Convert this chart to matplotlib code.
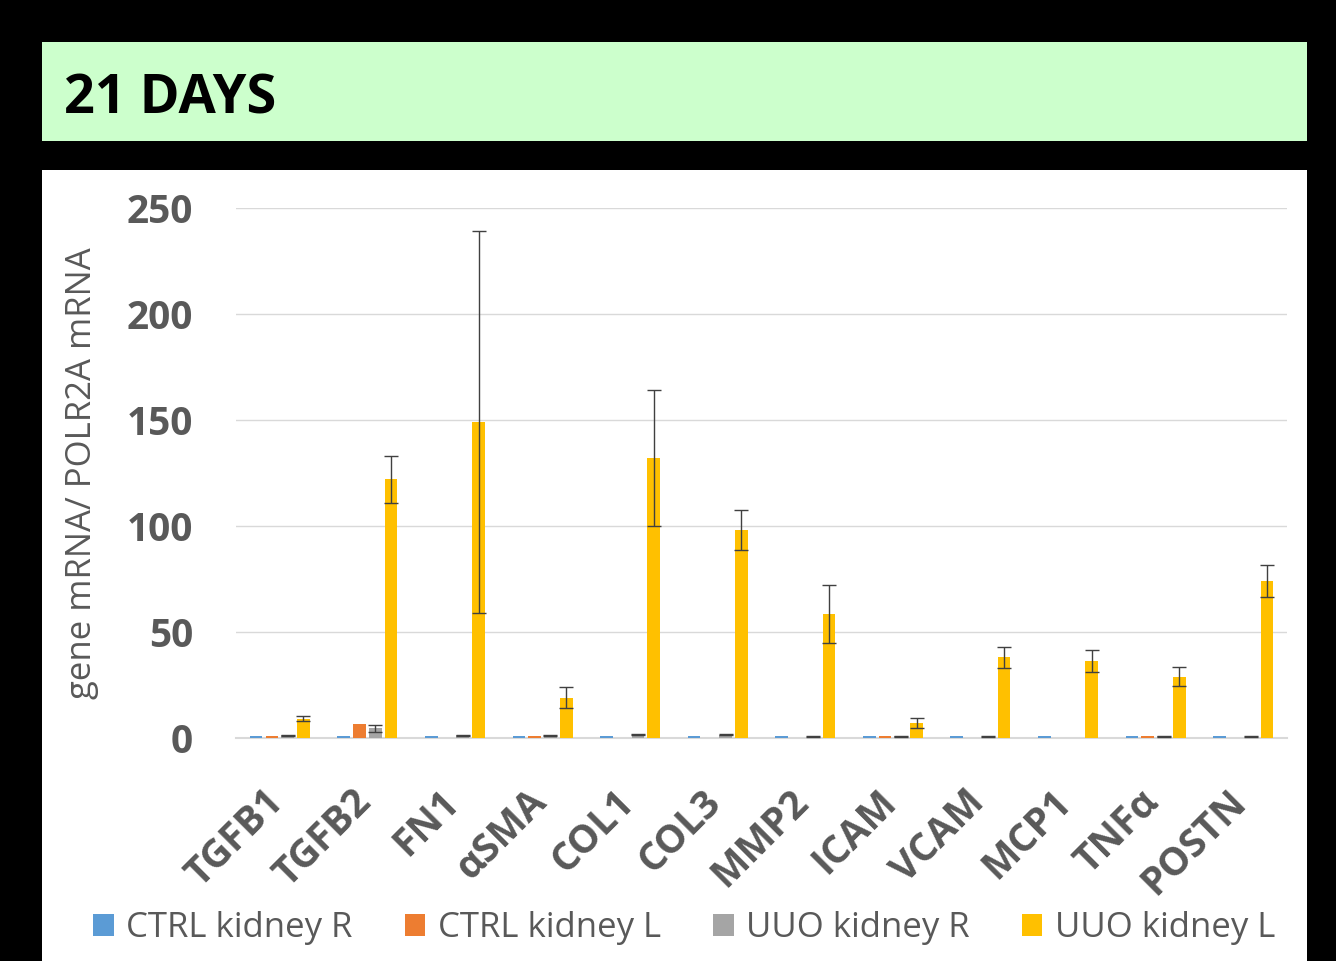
import numpy as np
import matplotlib
matplotlib.use("Agg")
from matplotlib import pyplot as plt
from matplotlib.patches import Rectangle
from matplotlib.transforms import ScaledTranslation

plt.rcParams['font.family'] = ['Open Sans', 'DejaVu Sans']

genes = ["TGFB1", "TGFB2", "FN1", "\u03b1SMA", "COL1", "COL3", "MMP2",
         "ICAM", "VCAM", "MCP1", "TNF\u03b1", "POSTN"]
series = ["CTRL kidney R", "CTRL kidney L", "UUO kidney R", "UUO kidney L"]

ctrl_r = [1.0, 1.0, 1.0, 1.0, 1.0, 1.0, 1.0, 1.0, 1.0, 1.0, 1.0, 1.0]
ctrl_l = [1.0, 6.6, 0.0, 1.0, 0.0, 0.0, 0.0, 1.0, 0.0, 0.0, 1.0, 0.0]
uuo_r = [1.2, 4.5, 1.2, 1.2, 1.6, 1.6, 0.8, 0.8, 0.8, 0.0, 0.8, 0.8]
uuo_l = [9.0, 122, 149, 19, 132, 98, 58.5, 7, 38, 36.3, 29, 74]

ctrl_r_err = [0, 0, 0, 0, 0, 0, 0, 0, 0, 0, 0, 0]
ctrl_l_err = [0, 0, 0, 0, 0, 0, 0, 0, 0, 0, 0, 0]
uuo_r_err = [0.4, 1.5, 0.4, 0.4, 0.4, 0.4, 0.3, 0.3, 0.3, 0, 0.3, 0.3]
uuo_l_err = [1.2, 11, 90, 5, 32, 9.5, 13.5, 2.4, 5, 5, 4.5, 7.5]

colors = ["#5b9bd5", "#ed7d31", "#a5a5a5", "#ffc000"]
txt_gray = "#595959"

fig = plt.figure(figsize=(13.36, 9.61), dpi=100)
fig.patch.set_facecolor("black")

# title banner
fig.patches.append(Rectangle((42 / 1336, 1 - 141 / 961), (1307 - 42) / 1336, 99 / 961,
                             transform=fig.transFigure, facecolor="#ccffcc",
                             edgecolor="none", zorder=-5))
fig.text(64 / 1336, 1 - 99 / 961, "21 DAYS", fontsize=39, fontweight="bold",
         color="black", va="center", ha="left")

# white chart panel
fig.patches.append(Rectangle((42 / 1336, 0), (1307 - 42) / 1336, (961 - 170) / 961,
                             transform=fig.transFigure, facecolor="white",
                             edgecolor="none", zorder=-5))

ax = fig.add_axes([236 / 1336, (961 - 738) / 961, (1287 - 236) / 1336, 530 / 961])
ax.set_facecolor("white")

x = np.arange(len(genes))
step = 0.18
w = 0.145
data = [ctrl_r, ctrl_l, uuo_r, uuo_l]
errs = [ctrl_r_err, ctrl_l_err, uuo_r_err, uuo_l_err]
for i, (vals, err) in enumerate(zip(data, errs)):
    pos = x + (i - 1.5) * step
    ax.bar(pos, vals, width=w, color=colors[i], linewidth=0,
           label=series[i], zorder=3)
    e = np.array(err)
    m = e > 0
    ax.errorbar(pos[m], np.array(vals)[m], yerr=e[m], fmt="none", ecolor="#404040",
                elinewidth=1, capsize=5, capthick=1, zorder=4)

ax.set_xlim(-0.5, len(genes) - 0.5)
ax.set_ylim(0, 250)
ax.set_yticks([0, 50, 100, 150, 200, 250])
ax.yaxis.grid(True, color="#d9d9d9", linewidth=1)
ax.set_axisbelow(True)
for s in ["top", "right", "left"]:
    ax.spines[s].set_visible(False)
ax.spines["bottom"].set_color("#d9d9d9")
ax.spines["bottom"].set_linewidth(1.5)
ax.tick_params(axis="both", length=0)
ax.tick_params(axis="y", labelsize=28, labelcolor=txt_gray, pad=31)
for lab in ax.get_yticklabels():
    lab.set_fontweight("bold")

ax.set_xticks(x)
ax.set_xticklabels(genes, rotation=45, ha="right", rotation_mode="anchor",
                   fontsize=28, fontweight="bold", color=txt_gray)
ax.tick_params(axis="x", pad=32)
shift = ScaledTranslation(-16 / 100, 0, fig.dpi_scale_trans)
for lab in ax.get_xticklabels():
    lab.set_transform(lab.get_transform() + shift)

ax.text((82 - 236) / 1051, 0.5, "gene mRNA/ POLR2A mRNA", transform=ax.transAxes,
        rotation=90, fontsize=25, color=txt_gray, ha="center", va="center")

fig.legend(loc="center", bbox_to_anchor=(0.512, 1 - 928 / 961), ncol=4,
           frameon=False, fontsize=25, labelcolor=txt_gray, handlelength=0.6,
           handleheight=0.6, handletextpad=0.35, columnspacing=1.5)

fig.savefig("out.png", dpi=100, facecolor=fig.get_facecolor())
